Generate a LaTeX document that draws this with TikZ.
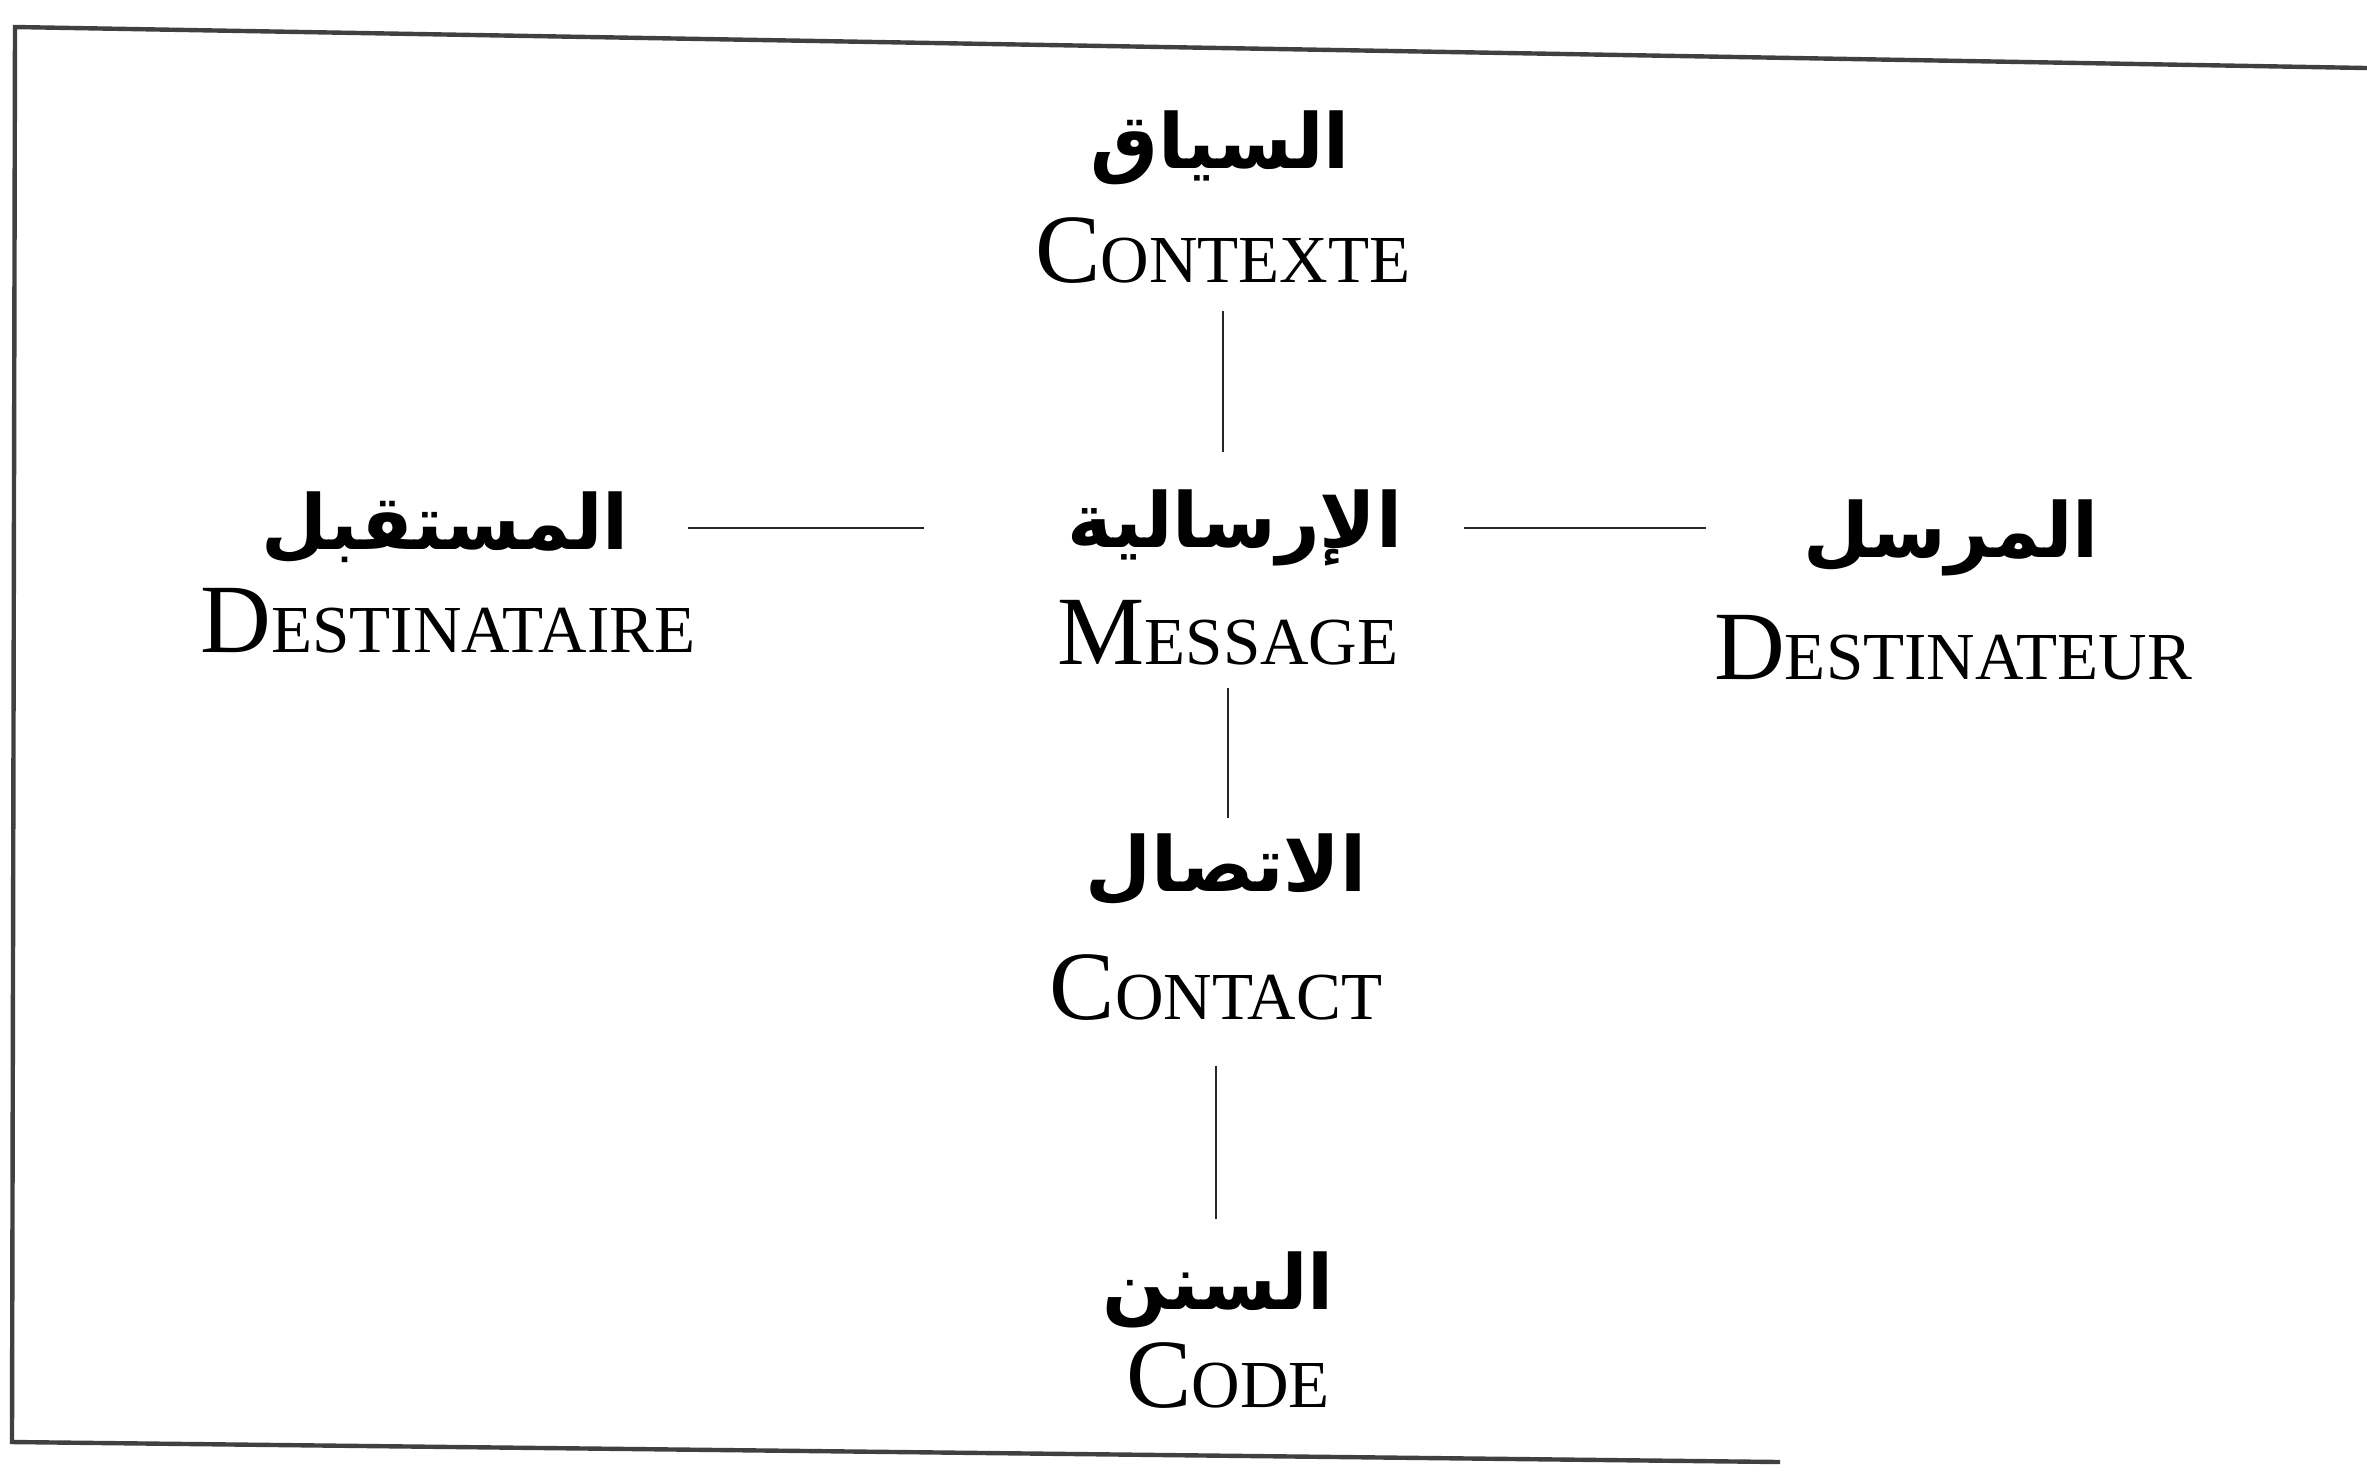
\documentclass[tikz,border=0pt]{standalone}
\usepackage{fontspec}
\setmainfont{Liberation Serif}
\newfontfamily\arabicfont[Script=Arabic]{DejaVu Sans}
\TeXXeTstate=1
\newcommand\bigsc[2]{{\fontsize{24.5}{26}\selectfont #1}{\fontsize{16.8}{18}\selectfont #2}}
\begin{document}
\begin{tikzpicture}[x=0.25pt,y=-0.25pt,
  ar/.style={font=\arabicfont\bfseries\fontsize{19}{21}\selectfont, inner sep=0pt},
  fr/.style={anchor=base, inner sep=0pt},
  conn/.style={line width=0.6pt, black!85},
  frame/.style={line width=1.1pt, black!75}]
\useasboundingbox (0,0) rectangle (2367,1471);
% frame
\draw[frame] (2367,68) -- (15,27) -- (12,1442) -- (1780,1462);
% nodes
\node[ar] (arctx)  at (1220,148) {\beginR السياق\endR};
\node[fr] (frctx)  at (1223,282) {\bigsc{C}{ONTEXTE}};
\node[ar] (armsg)  at (1235,528) {\beginR الإرسالية\endR};
\node[fr] (frmsg)  at (1228,664) {\bigsc{M}{ESSAGE}};
\node[ar] (arrec)  at (445,528)  {\beginR المستقبل\endR};
\node[fr] (frrec)  at (448,652)  {\bigsc{D}{ESTINATAIRE}};
\node[ar] (arsend) at (1951,538) {\beginR المرسل\endR};
\node[fr] (frsend) at (1953,679) {\bigsc{D}{ESTINATEUR}};
\node[ar] (arcont) at (1226,870) {\beginR الاتصال\endR};
\node[fr] (frcont) at (1216,1019) {\bigsc{C}{ONTACT}};
\node[ar] (arcode) at (1218,1290) {\beginR السنن\endR};
\node[fr] (frcode) at (1228,1407) {\bigsc{C}{ODE}};
% connectors
\draw[conn, shorten <=6.75pt, shorten >=9.25pt] (frctx.south) -- (frctx.south |- armsg.north);
\draw[conn, shorten <=5.75pt, shorten >=3.75pt] (frmsg.south) -- (frmsg.south |- arcont.north);
\draw[conn, shorten <=11.25pt, shorten >=8pt] (frcont.south) -- (frcont.south |- arcode.north);
\draw[conn] ([xshift=60.75pt]arrec.center) -- ([xshift=-77.75pt]armsg.center);
\draw[conn] ([xshift=57.25pt]armsg.center) -- ([xshift=-61.25pt]arsend.center |- armsg.center);
\end{tikzpicture}
\end{document}
